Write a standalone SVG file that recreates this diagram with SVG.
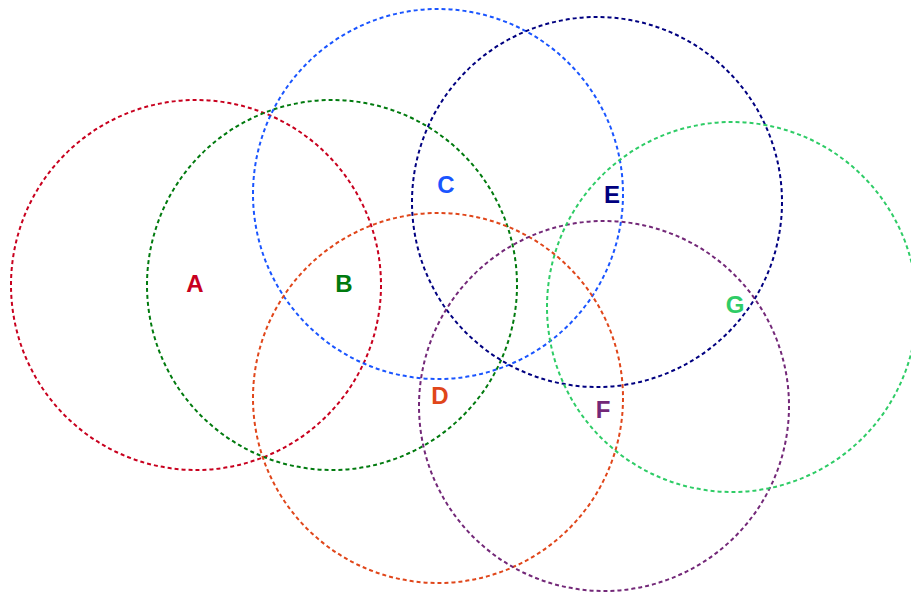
<svg xmlns="http://www.w3.org/2000/svg" width="911" height="597" viewBox="0 0 911 597">
<style>
circle{fill:none;stroke-width:2;stroke-dasharray:4 3}
text{font-family:"Liberation Sans",Arial,sans-serif;font-weight:bold;font-size:24px;text-anchor:middle;dominant-baseline:central}
</style>
<rect width="911" height="597" fill="#fff"/>
<g id="connectors"></g>
<g id="A"><circle cx="196" cy="285" r="185" stroke="#c8001e"/><text x="195" y="283" fill="#c8001e">A</text></g>
<g id="B"><circle cx="332" cy="285" r="185" stroke="#007a0e"/><text x="344" y="283" fill="#007a0e">B</text></g>
<g id="C"><circle cx="438" cy="194" r="185" stroke="#1a55ff"/><text x="446" y="184" fill="#1a55ff">C</text></g>
<g id="D"><circle cx="438" cy="398" r="185" stroke="#e0461a"/><text x="440" y="395" fill="#e0461a">D</text></g>
<g id="E"><circle cx="597" cy="202" r="185" stroke="#000080"/><text x="612" y="194" fill="#000080">E</text></g>
<g id="F"><circle cx="604" cy="406" r="185" stroke="#732878"/><text x="603" y="409" fill="#732878">F</text></g>
<g id="G"><circle cx="732" cy="307" r="185" stroke="#2ecc66"/><text x="735" y="304" fill="#2ecc66">G</text></g>
</svg>
